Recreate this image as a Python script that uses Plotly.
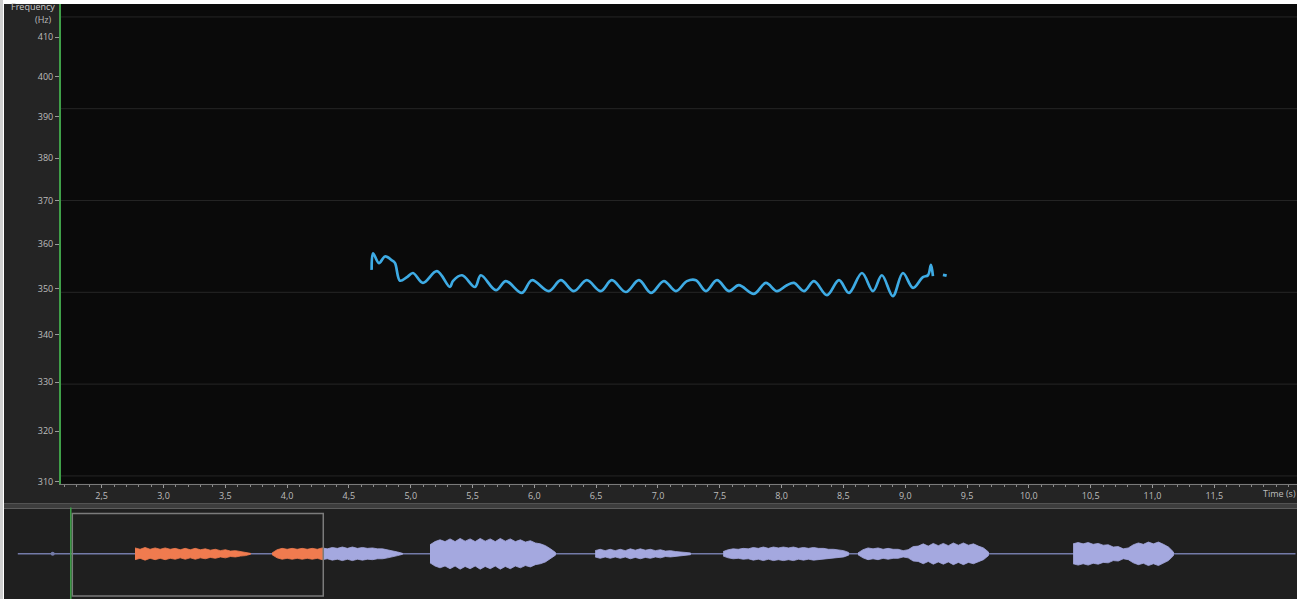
import numpy as np
import plotly.graph_objects as go

W, H = 1307, 603

# ---------------------------------------------------------------- data
# visible time window of the pitch view (s)
view_start, view_end = 2.171, 12.169

# pitch track (s, Hz)
pitch_time = [4.684, 4.695, 4.743, 4.792, 4.849, 4.873, 4.913, 4.970, 5.018, 5.099,
              5.212, 5.317, 5.341, 5.415, 5.520, 5.567, 5.689, 5.770, 5.899, 5.980,
              6.117, 6.214, 6.319, 6.424, 6.537, 6.626, 6.740, 6.846, 6.943, 7.048,
              7.145, 7.234, 7.307, 7.388, 7.477, 7.574, 7.654, 7.776, 7.873, 7.962,
              8.043, 8.100, 8.181, 8.262, 8.367, 8.464, 8.545, 8.650, 8.739, 8.811,
              8.900, 8.981, 9.063, 9.143, 9.184, 9.208, 9.224]
pitch_hz = [354.2, 357.9, 355.7, 357.2, 356.3, 355.7, 351.8, 352.6, 353.5, 351.3,
            353.9, 350.4, 351.7, 353.0, 350.4, 353.0, 349.7, 351.7, 349.1, 351.9,
            349.5, 351.9, 349.5, 351.9, 349.5, 351.9, 349.3, 351.9, 349.1, 351.7,
            349.5, 351.7, 351.9, 349.5, 351.9, 349.5, 350.8, 348.9, 351.3, 349.5,
            350.8, 351.3, 349.5, 351.7, 348.6, 351.9, 349.1, 353.5, 349.5, 353.0,
            348.4, 353.5, 350.2, 352.6, 353.0, 355.3, 352.8]
# isolated pitch fragment after the main track
pitch_tail_time = [9.305, 9.335]
pitch_tail_hz = [353.1, 352.9]

freq_ticks = [310, 320, 330, 340, 350, 360, 370, 380, 390, 400, 410]
semitone_hz = [311.13, 329.63, 349.23, 369.99, 392.00, 415.30]   # D#4 .. G#4
time_ticks = [2.5, 3.0, 3.5, 4.0, 4.5, 5.0, 5.5, 6.0, 6.5, 7.0, 7.5, 8.0, 8.5,
              9.0, 9.5, 10.0, 10.5, 11.0, 11.5]

# overview waveform: envelope per sounding segment (start s, amplitude every 0.2 s)
wave_step = 0.2
wave_starts = [4.67, 10.13, 16.42, 23.00, 28.10, 33.47, 42.04]
wave_amps = [
    [0.13, 0.10, 0.14, 0.10, 0.13, 0.10, 0.13, 0.10, 0.12, 0.09, 0.12, 0.09,
     0.12, 0.09, 0.11, 0.08, 0.10, 0.07, 0.09, 0.06, 0.07, 0.05, 0.04, 0.01],
    [0.02, 0.09, 0.12, 0.10, 0.12, 0.10, 0.12, 0.10, 0.12, 0.10, 0.13, 0.11,
     0.14, 0.12, 0.15, 0.12, 0.15, 0.12, 0.14, 0.12, 0.13, 0.11, 0.11, 0.09,
     0.07, 0.04, 0.01],
    [0.20, 0.27, 0.31, 0.27, 0.33, 0.27, 0.34, 0.28, 0.33, 0.27, 0.34, 0.28,
     0.33, 0.27, 0.34, 0.28, 0.33, 0.27, 0.31, 0.26, 0.29, 0.24, 0.22, 0.18,
     0.11, 0.03],
    [0.07, 0.10, 0.07, 0.10, 0.07, 0.10, 0.07, 0.11, 0.08, 0.11, 0.08, 0.10,
     0.07, 0.09, 0.06, 0.07, 0.05, 0.04, 0.03, 0.02],
    [0.05, 0.09, 0.11, 0.10, 0.12, 0.11, 0.14, 0.12, 0.15, 0.12, 0.15, 0.13,
     0.15, 0.13, 0.15, 0.12, 0.14, 0.12, 0.14, 0.12, 0.12, 0.10, 0.10, 0.08,
     0.07, 0.03],
    [0.02, 0.09, 0.13, 0.11, 0.13, 0.10, 0.12, 0.10, 0.10, 0.07, 0.09, 0.16,
     0.17, 0.22, 0.17, 0.23, 0.18, 0.23, 0.18, 0.24, 0.19, 0.24, 0.19, 0.22,
     0.17, 0.13, 0.04],
    [0.22, 0.25, 0.22, 0.25, 0.21, 0.23, 0.19, 0.20, 0.15, 0.16, 0.11, 0.13,
     0.20, 0.24, 0.21, 0.26, 0.22, 0.26, 0.21, 0.15, 0.04],
]
click_time = 1.39        # short click before the first phrase
cursor_time = 2.11       # playback cursor
recording_end = 50.9     # length of the recording (s)

# ---------------------------------------------------------------- styles
PITCH = "#3eabe4"
SEL = "#f07b4f"
WAVE = "#a4a8df"
BASE = "#737aa8"
GREEN = "#3f9f48"
TXT = "#bdbdbd"
FONT = "Open Sans"


def px(x):
    return x / W


def py(y):
    return 1 - y / H


def clip(t, a, lo, hi):
    t = np.asarray(t, float)
    a = np.asarray(a, float)
    lo2, hi2 = max(lo, t[0]), min(hi, t[-1])
    if hi2 <= lo2:
        return None
    mask = (t > lo2) & (t < hi2)
    tt = np.concatenate([[lo2], t[mask], [hi2]])
    return tt, np.interp(tt, t, a)


def envelope(tt, aa, color):
    xs = np.concatenate([tt, tt[::-1]])
    ys = np.concatenate([aa, -aa[::-1]])
    return go.Scatter(x=xs, y=ys, mode="lines", fill="toself", fillcolor=color,
                      line=dict(color=color, width=0.8), xaxis="x2", yaxis="y2",
                      hoverinfo="skip")


fig = go.Figure()

# pitch track
fig.add_trace(go.Scatter(x=pitch_time, y=pitch_hz, mode="lines",
                         line=dict(color=PITCH, width=2.7, shape="spline", smoothing=1.0),
                         hoverinfo="skip"))
fig.add_trace(go.Scatter(x=pitch_tail_time, y=pitch_tail_hz, mode="lines",
                         line=dict(color=PITCH, width=2.8), hoverinfo="skip"))

# overview: baseline, click, sound segments (selection in orange)
fig.add_trace(go.Scatter(x=[0, recording_end], y=[0, 0], mode="lines",
                         line=dict(color=BASE, width=1.5), xaxis="x2", yaxis="y2",
                         hoverinfo="skip"))
fig.add_trace(go.Scatter(x=[click_time], y=[0], mode="markers",
                         marker=dict(color=BASE, size=4), xaxis="x2", yaxis="y2",
                         hoverinfo="skip"))
for start, amps in zip(wave_starts, wave_amps):
    t = start + wave_step * np.arange(len(amps))
    for lo, hi, col in [(-1e9, view_start, WAVE), (view_start, view_end, SEL),
                        (view_end, 1e9, WAVE)]:
        part = clip(t, amps, lo, hi)
        if part is not None:
            fig.add_trace(envelope(part[0], part[1], col))

# ---------------------------------------------------------------- panels
shapes = [
    dict(type="rect", xref="paper", yref="paper", x0=px(4), x1=px(1297),
         y0=py(507), y1=py(4), fillcolor="#242424", line_width=0, layer="below"),
    dict(type="rect", xref="paper", yref="paper", x0=px(61), x1=px(1297),
         y0=py(487), y1=py(4), fillcolor="#0a0a0a", line_width=0, layer="below"),
    dict(type="rect", xref="paper", yref="paper", x0=px(4), x1=px(1297),
         y0=py(512), y1=py(507), fillcolor="#3d3d3d", line_width=0, layer="below"),
    dict(type="rect", xref="paper", yref="paper", x0=px(4), x1=px(1297),
         y0=0, y1=py(512), fillcolor="#1f1f1f", line_width=0, layer="below"),
    dict(type="rect", xref="paper", yref="paper", x0=0, x1=px(3),
         y0=0, y1=1, fillcolor="#cfcfcf", line_width=0, layer="below"),
]
# semitone grid
for f in semitone_hz:
    shapes.append(dict(type="line", xref="x domain", yref="y", x0=0, x1=1, y0=f, y1=f,
                       line=dict(color="#262626", width=1), layer="below"))
# selection box and cursor in the overview
shapes.append(dict(type="rect", xref="x2", yref="paper", x0=view_start, x1=view_end,
                   y0=py(600), y1=py(517), line=dict(color="#7b7b7b", width=1.5),
                   fillcolor="rgba(0,0,0,0)"))
shapes.append(dict(type="line", xref="x2", yref="paper", x0=cursor_time, x1=cursor_time,
                   y0=0, y1=py(511), line=dict(color=GREEN, width=1.5)))

annotations = [
    dict(text="Frequency", xref="paper", yref="paper", x=px(57), y=py(7),
         xanchor="right", yanchor="middle", showarrow=False,
         font=dict(family=FONT, size=9, color="#cccccc")),
    dict(text="(Hz)", xref="paper", yref="paper", x=px(54), y=py(20),
         xanchor="right", yanchor="middle", showarrow=False,
         font=dict(family=FONT, size=9, color=TXT)),
    dict(text="Time (s)", xref="paper", yref="paper", x=px(1261), y=py(497),
         xanchor="left", yanchor="middle", showarrow=False,
         font=dict(family=FONT, size=9, color=TXT)),
]

fig.update_layout(
    width=W, height=H, margin=dict(l=0, r=0, t=0, b=0, pad=0),
    paper_bgcolor="#ffffff", plot_bgcolor="rgba(0,0,0,0)",
    showlegend=False, hovermode=False, separators=",.",
    shapes=shapes, annotations=annotations,
    xaxis=dict(domain=[px(61), px(1297)], range=[view_start, view_end], anchor="y",
               tickmode="array", tickvals=time_ticks, tickformat=".1f",
               ticks="outside", ticklen=3, tickcolor="#9a9a9a", tickwidth=1,
               minor=dict(dtick=0.1, ticks="outside", ticklen=2, tickcolor="#8a8a8a"),
               showline=True, linecolor="#7a7a7a", linewidth=1,
               showgrid=False, zeroline=False,
               tickfont=dict(family=FONT, size=9, color=TXT)),
    yaxis=dict(domain=[py(487), py(4)], type="log",
               range=[np.log10(309.6), np.log10(418.7)], anchor="x",
               tickmode="array", tickvals=freq_ticks,
               ticktext=[str(v) for v in freq_ticks],
               ticks="outside", ticklen=4, tickcolor="#9a9a9a",
               showline=True, linecolor=GREEN, linewidth=2,
               showgrid=False, zeroline=False,
               tickfont=dict(family=FONT, size=9, color=TXT)),
    xaxis2=dict(domain=[px(4), px(1297)], range=[-0.55, 50.96], anchor="y2",
                visible=False, showgrid=False, zeroline=False),
    yaxis2=dict(domain=[0, py(512)], range=[-1, 1], anchor="x2",
                visible=False, showgrid=False, zeroline=False),
)

fig.write_html("out.html")
